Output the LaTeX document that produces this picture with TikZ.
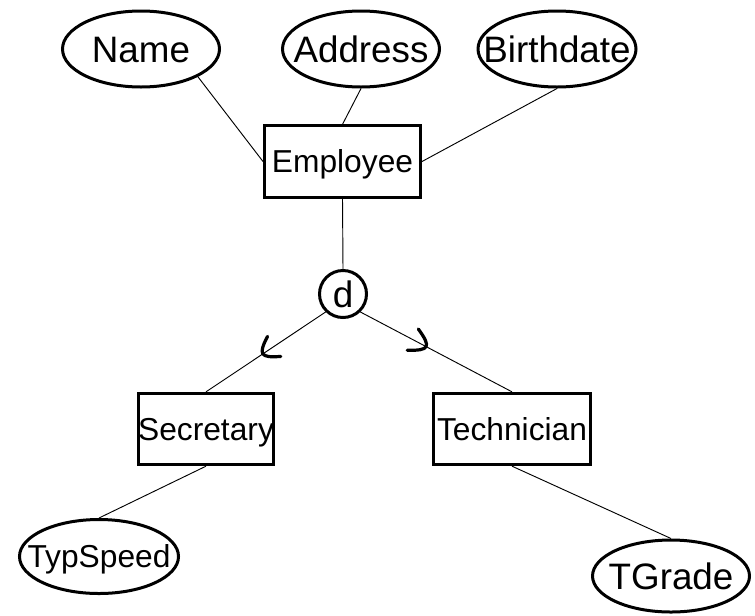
\documentclass[tikz,border=0pt]{standalone}
\usepackage{fontspec}
\setmainfont{Liberation Sans}
\usetikzlibrary{shapes.geometric}
\begin{document}
\begin{tikzpicture}[x=0.75pt,y=-0.75pt,
  big/.style={font=\fontsize{27.6}{30}\selectfont, text height=19.8pt, text depth=0pt, inner sep=0pt},
  small/.style={font=\fontsize{23.8}{26}\selectfont, text height=17.1pt, text depth=0pt, inner sep=0pt},
  attr/.style={ellipse, draw, line width=2.25pt, inner sep=0pt, minimum width=117.75pt, minimum height=57pt},
  ent/.style={rectangle, draw, line width=2.25pt, small, minimum height=53.5pt},
  circ/.style={circle, draw, line width=2.25pt, big, minimum size=35.25pt},
  conn/.style={line width=0.7pt},
  sub/.style={line width=2.4pt, line cap=round}]
\useasboundingbox (0,0) rectangle (755,615);
\node[attr, label={[big]center:Name}] (name) at (141,49) {};
\node[attr, label={[big]center:Address}] (addr) at (361,49) {};
\node[attr, minimum width=118.5pt, label={[big]center:Birthdate}] (birth) at (557,49) {};
\node[ent, minimum width=117pt] (emp) at (342.5,161.5) {Employee};
\node[circ] (d) at (343,294) {d};
\node[ent, minimum width=101.25pt] (sec) at (206,429) {Secretary};
\node[ent, minimum width=117.75pt] (tech) at (512,429) {Technician};
\node[attr, minimum width=119.25pt, minimum height=55.5pt, label={[small]center:TypSpeed}] (typ) at (99,556.5) {};
\node[attr, minimum height=54pt, label={[big]center:TGrade}] (tg) at (671,576) {};
\draw[conn] (name.-26) -- (emp.west);
\draw[conn] (addr.south) -- (emp.north);
\draw[conn] (birth.south) -- (emp.east);
\draw[conn] (emp.south) -- (d.north);
\draw[conn] (d.226) -- coordinate[pos=0.5] (s1) (sec.north);
\draw[conn] (d.314) -- coordinate[pos=0.41] (s2) (tech.north);
\draw[conn] (sec.south) -- (typ.north);
\draw[conn] (tech.south) -- (tg.north);
\draw[sub, shift={(s1)}, rotate=213.5] (-10,-12) .. controls (8,-2) and (8,2) .. (-10,12);
\draw[sub, shift={(s2)}, rotate=-27.5] (-11,-12) .. controls (9,-2) and (9,2) .. (-11,12);
\end{tikzpicture}
\end{document}
